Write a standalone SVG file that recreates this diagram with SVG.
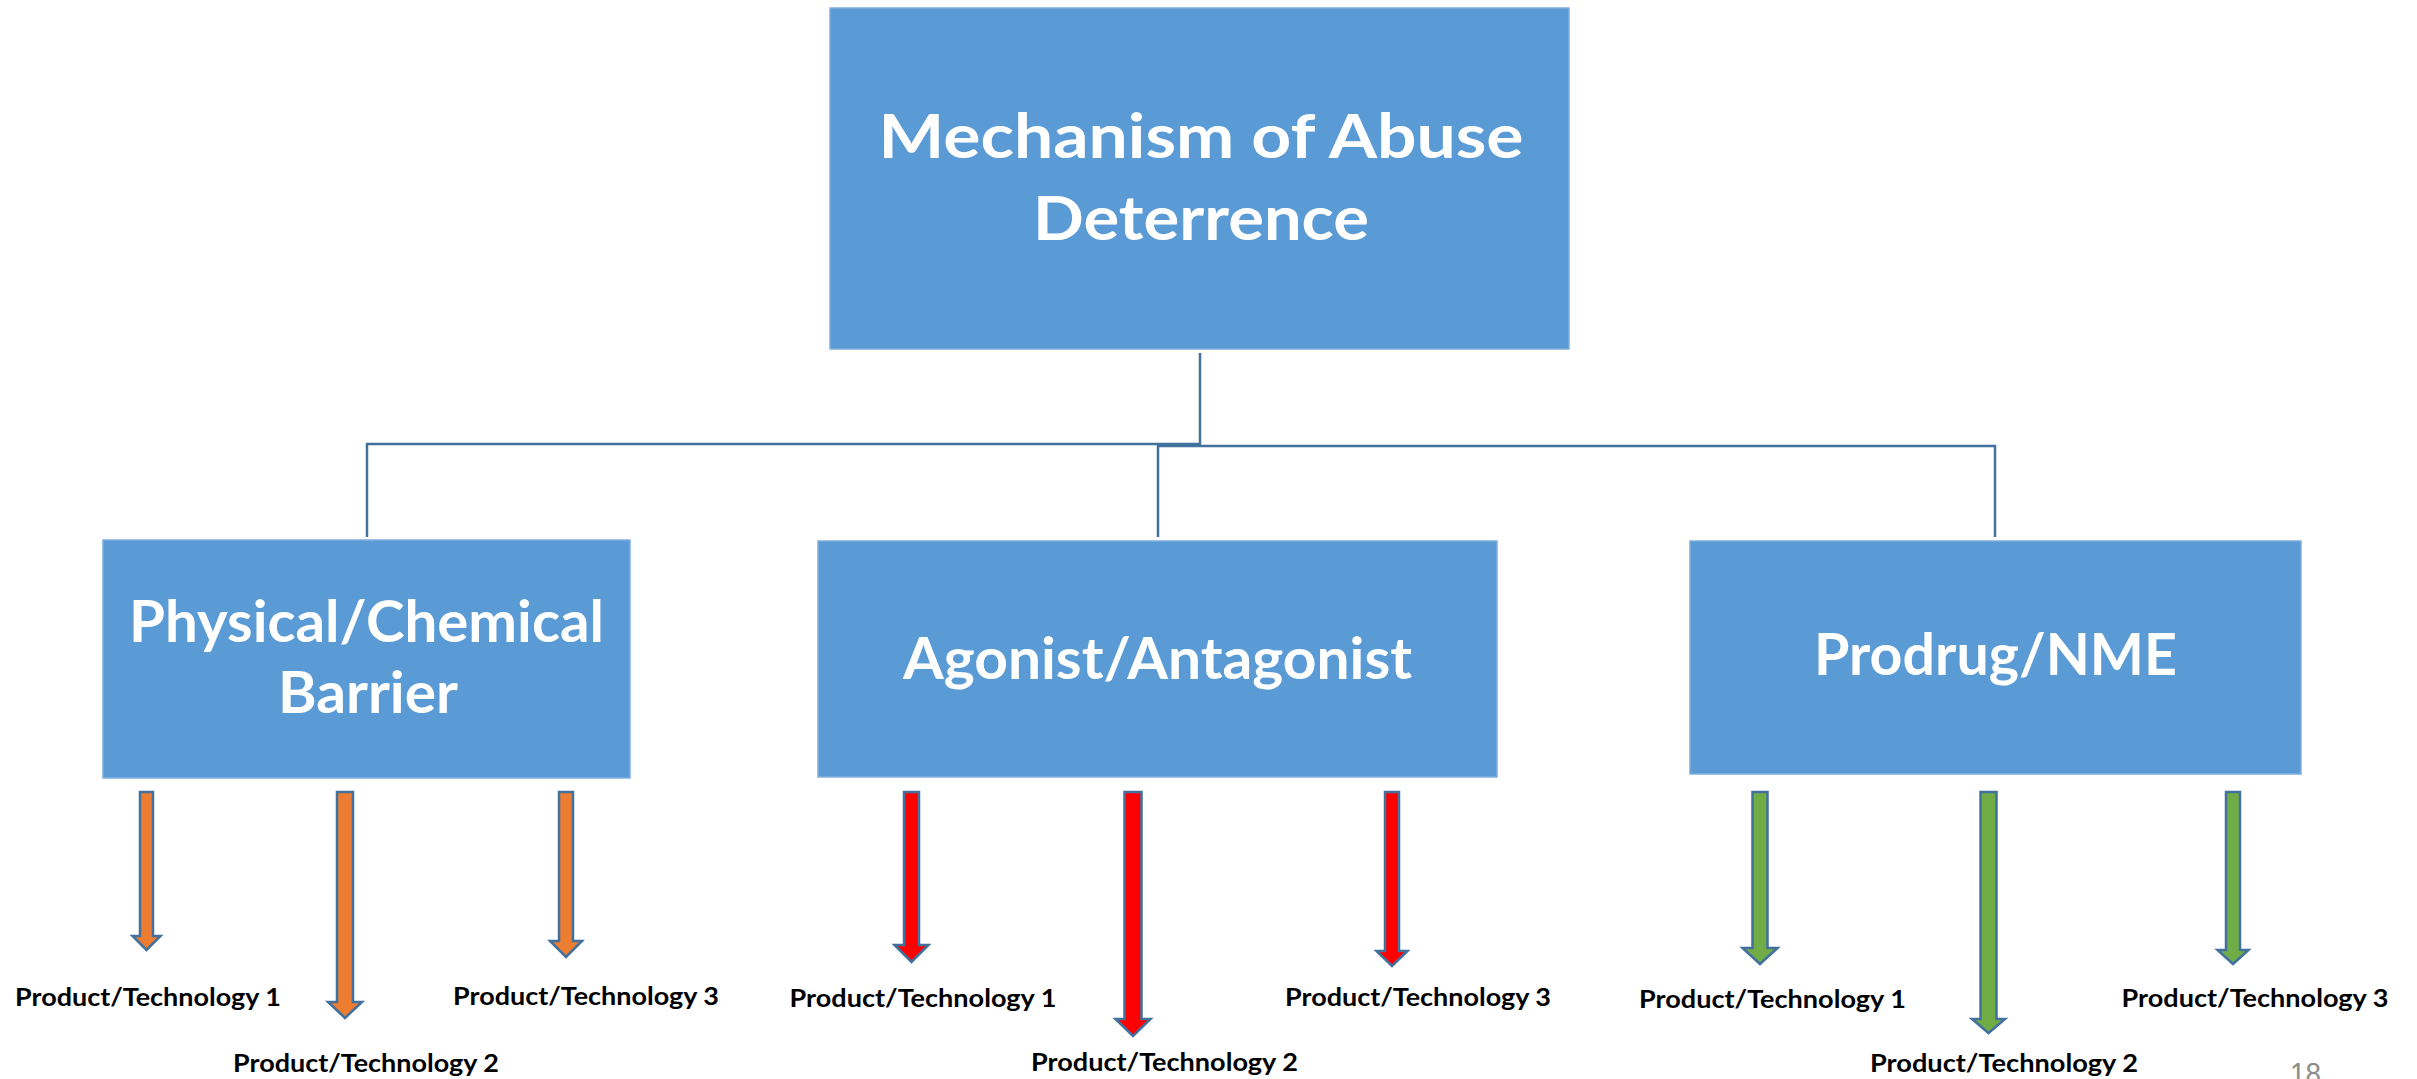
<svg xmlns="http://www.w3.org/2000/svg" width="2417" height="1079" viewBox="0 0 2417 1079">
<style>
.box{fill:#5B9BD5;stroke:#7FAFE0;stroke-width:1.5}
.title{font-family:Lato,"Noto Sans","Liberation Sans",sans-serif;font-weight:700;fill:#FFFFFF;text-anchor:middle}
.t1{font-size:61px}
.t2{font-size:58px}
.lbl{font-family:Lato,"Noto Sans","Liberation Sans",sans-serif;font-weight:700;font-size:25px;fill:#000000;text-anchor:middle}
.conn{fill:none;stroke:#41719C;stroke-width:2.5}
.arr{stroke:#41719C;stroke-width:2.5;stroke-linejoin:miter}
.orange{fill:#ED7D31}
.red{fill:#FF0000}
.green{fill:#70AD47}
.pg{font-family:"Liberation Sans",Arial,sans-serif;font-size:31px;fill:#8C8C8C}
</style>
<rect width="2417" height="1079" fill="#FFFFFF"/>

<g id="connectors">
<polyline class="conn" points="1200,353 1200,444 367,444 367,537"/>
<polyline class="conn" points="1158,537 1158,446 1995,446 1995,537"/>
</g>

<g id="node-root">
<rect class="box" x="830" y="8" width="739" height="341"/>
<text class="title t1" x="1201" y="158" textLength="645" lengthAdjust="spacingAndGlyphs">Mechanism of Abuse</text>
<text class="title t1" x="1201" y="240" textLength="336" lengthAdjust="spacingAndGlyphs">Deterrence</text>
</g>

<g id="node-physical">
<rect class="box" x="103" y="540" width="527" height="238"/>
<text class="title t2" x="366.5" y="642" textLength="475" lengthAdjust="spacingAndGlyphs">Physical/Chemical</text>
<text class="title t2" x="368" y="713" textLength="180" lengthAdjust="spacingAndGlyphs">Barrier</text>
</g>

<g id="node-agonist">
<rect class="box" x="818" y="541" width="679" height="236"/>
<text class="title t2" x="1157.5" y="679" textLength="509" lengthAdjust="spacingAndGlyphs">Agonist/Antagonist</text>
</g>

<g id="node-prodrug">
<rect class="box" x="1690" y="541" width="611" height="233"/>
<text class="title t2" x="1995.5" y="675" textLength="363" lengthAdjust="spacingAndGlyphs">Prodrug/NME</text>
</g>

<g id="arrows-physical">
<polygon class="arr orange" points="140,792 153,792 153,936 160.5,936 146.5,950 132.5,936 140,936"/>
<polygon class="arr orange" points="337,792 353,792 353,1002 362,1002 345,1018 328,1002 337,1002"/>
<polygon class="arr orange" points="559,792 573,792 573,941 582,941 566,957 550,941 559,941"/>
</g>
<g id="arrows-agonist">
<polygon class="arr red" points="904,792 919,792 919,945 928.5,945 911.5,962 894.5,945 904,945"/>
<polygon class="arr red" points="1124.5,792 1141.5,792 1141.5,1019 1150.5,1019 1133,1036 1115.5,1019 1124.5,1019"/>
<polygon class="arr red" points="1385,792 1399,792 1399,951 1407.5,951 1392,966 1376.5,951 1385,951"/>
</g>
<g id="arrows-prodrug">
<polygon class="arr green" points="1752.5,792 1767.5,792 1767.5,948 1777.5,948 1760,964 1742.5,948 1752.5,948"/>
<polygon class="arr green" points="1980.5,792 1996.5,792 1996.5,1019 2005,1019 1988.5,1033 1972,1019 1980.5,1019"/>
<polygon class="arr green" points="2226,792 2240,792 2240,950 2248.5,950 2233,964 2217.5,950 2226,950"/>
</g>

<g id="labels-physical">
<text class="lbl" x="148" y="1006" textLength="266" lengthAdjust="spacingAndGlyphs">Product/Technology 1</text>
<text class="lbl" x="366" y="1072" textLength="266" lengthAdjust="spacingAndGlyphs">Product/Technology 2</text>
<text class="lbl" x="586" y="1005" textLength="266" lengthAdjust="spacingAndGlyphs">Product/Technology 3</text>
</g>
<g id="labels-agonist">
<text class="lbl" x="923" y="1007" textLength="267" lengthAdjust="spacingAndGlyphs">Product/Technology 1</text>
<text class="lbl" x="1164.5" y="1071" textLength="267" lengthAdjust="spacingAndGlyphs">Product/Technology 2</text>
<text class="lbl" x="1418" y="1006" textLength="266" lengthAdjust="spacingAndGlyphs">Product/Technology 3</text>
</g>
<g id="labels-prodrug">
<text class="lbl" x="1772.5" y="1008" textLength="267" lengthAdjust="spacingAndGlyphs">Product/Technology 1</text>
<text class="lbl" x="2004" y="1072" textLength="268" lengthAdjust="spacingAndGlyphs">Product/Technology 2</text>
<text class="lbl" x="2255" y="1007" textLength="267" lengthAdjust="spacingAndGlyphs">Product/Technology 3</text>
</g>

<text class="pg" x="2290" y="1085" textLength="31" lengthAdjust="spacingAndGlyphs">18</text>
</svg>
